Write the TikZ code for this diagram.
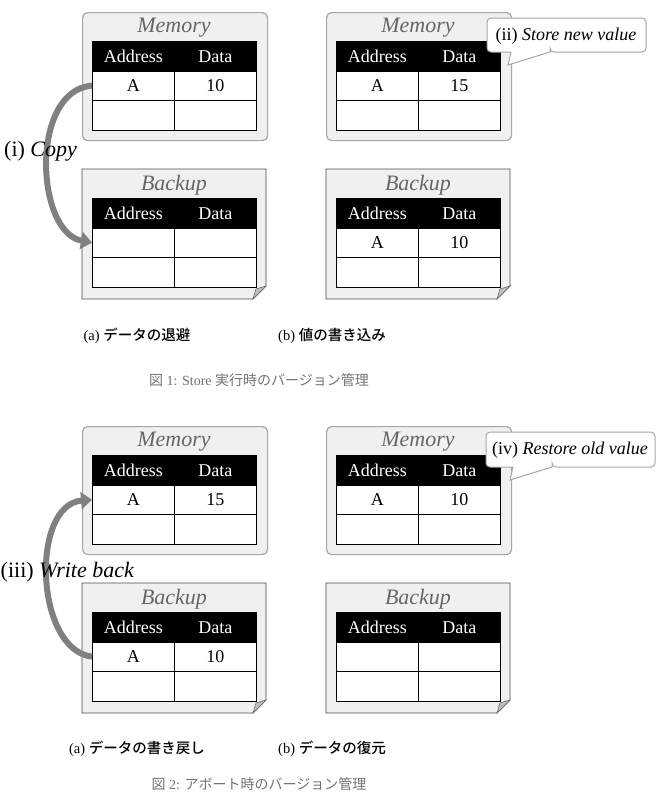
\documentclass[tikz,border=0pt]{standalone}
\usepackage{fontspec}
\setmainfont{Liberation Serif}
\newfontfamily\jp{Noto Sans CJK JP}
\newfontfamily\jpm{Noto Sans CJK JP Medium}
\usetikzlibrary{arrows.meta}
\tikzset{
  cellbox/.style={draw=black, fill=white, minimum width=82pt, minimum height=29.5pt, inner sep=0pt,
    font=\fontsize{18}{18}\selectfont, line width=0.8pt, anchor=north west,
    text height=12.5pt, text depth=0pt},
  hcell/.style={cellbox, fill=black, text=white},
  membox/.style={draw=black!35, fill=black!6, rounded corners=5pt, line width=1.2pt,
    minimum width=185pt, minimum height=128pt, anchor=north west, inner sep=0pt},
  backbox/.style={draw=black!70, fill=black!6, line width=0.8pt},
  foldtri/.style={draw=black!60, fill=black!25, line width=0.6pt},
  boxtitle/.style={font=\fontsize{22}{22}\selectfont\itshape, text=black!60, inner sep=0pt},
  flow/.style={draw=black!50, line width=6pt, -{Triangle[length=11pt,width=17pt]}},
  flowlabel/.style={font=\fontsize{22}{22}\selectfont, inner sep=0pt},
  calloutshape/.style={draw=black!35, fill=white, line width=1pt},
  callouttext/.style={font=\fontsize{18}{18}\selectfont, inner sep=0pt},
  subcap/.style={font=\fontsize{14.5}{14.5}\selectfont, inner sep=0pt},
  figcap/.style={font=\fontsize{14}{14}\selectfont, text=black!55, inner sep=0pt},
}
% table: name, x, y(top of header), addr, data
\newcommand\memtab[5]{%
  \node[hcell] (#1-h1) at (#2,#3) {Address};
  \node[hcell] (#1-h2) at (#2+82,#3) {Data};
  \node[cellbox] (#1-a1) at (#2,#3+29.5) {#4};
  \node[cellbox] (#1-d1) at (#2+82,#3+29.5) {#5};
  \node[cellbox] (#1-a2) at (#2,#3+59) {};
  \node[cellbox] (#1-d2) at (#2+82,#3+59) {};
}
% memory panel: name, x, y, addr, data
\newcommand\mempanel[5]{%
  \node[membox] (#1) at (#2,#3) {};
  \node[boxtitle] (#1-t) at (#2+92,#3+16) {Memory};
  \memtab{#1}{#2+10}{#3+29}{#4}{#5}
}
% backup panel: name, x, y, addr, data
\newcommand\backpanel[5]{%
  \draw[backbox] (#2,#3) -- ++(184,0) -- ++(0,117) -- ++(-13,13) -- ++(-171,0) -- cycle;
  \draw[foldtri] (#2+184,#3+117) -- (#2+171,#3+130) -- (#2+174,#3+120) -- cycle;
  \node[boxtitle] (#1-t) at (#2+92,#3+16) {Backup};
  \memtab{#1}{#2+10}{#3+29}{#4}{#5}
}
\begin{document}
\begin{tikzpicture}[x=1pt,y=-1pt]
\useasboundingbox (0,0) rectangle (657,793);
\clip (0,0) rectangle (657,793);
\fill[white] (0,0) rectangle (657,793);

% ---------- Figure 1 ----------
\mempanel{m1a}{82}{12}{A}{10}
\backpanel{b1a}{82}{169}{}{}
\mempanel{m1b}{326}{12}{A}{15}
\backpanel{b1b}{326}{169}{A}{10}

\draw[flow] (m1a-a1.west) .. controls (30,90) and (35,232) .. (b1a-a1.west);
\node[flowlabel, anchor=west] (l1) at (4,151) {(i) \textit{Copy}};

\draw[calloutshape] (550,52) -- (508,65) -- (511,52) [rounded corners=4pt] -- (487,52) -- (487,18) -- (646,18) -- (646,52) -- (550,52) [sharp corners] -- cycle;
\node[callouttext] (c1) at (566,36) {(ii) \textit{Store new value}};

\node[subcap] (s1a) at (137,336) {(a) {\jpm データの退避}};
\node[subcap] (s1b) at (332,336) {(b) {\jpm 値の書き込み}};
\node[figcap] (f1) at (259,380) {{\jp 図} 1: Store {\jp 実行時のバージョン管理}};

% ---------- Figure 2 ----------
\mempanel{m2a}{82}{426}{A}{15}
\backpanel{b2a}{82}{583}{A}{10}
\mempanel{m2b}{326}{426}{A}{10}
\backpanel{b2b}{326}{583}{}{}

\draw[flow] (b2a-a1.west) .. controls (35,650) and (30,505) .. (m2a-a1.west);
\node[flowlabel, anchor=west] (l2) at (0.5,572) {(iii) \textit{Write back}};

\draw[calloutshape] (552,467) -- (510,480) -- (513,467) [rounded corners=4pt] -- (486,467) -- (486,432) -- (655,432) -- (655,467) -- (552,467) [sharp corners] -- cycle;
\node[callouttext] (c2) at (570,450) {(iv) \textit{Restore old value}};

\node[subcap] (s2a) at (137,749) {(a) {\jpm データの書き戻し}};
\node[subcap] (s2b) at (332,749) {(b) {\jpm データの復元}};
\node[figcap] (f2) at (259,784) {{\jp 図} 2: {\jp アボート時のバージョン管理}};
\end{tikzpicture}
\end{document}
